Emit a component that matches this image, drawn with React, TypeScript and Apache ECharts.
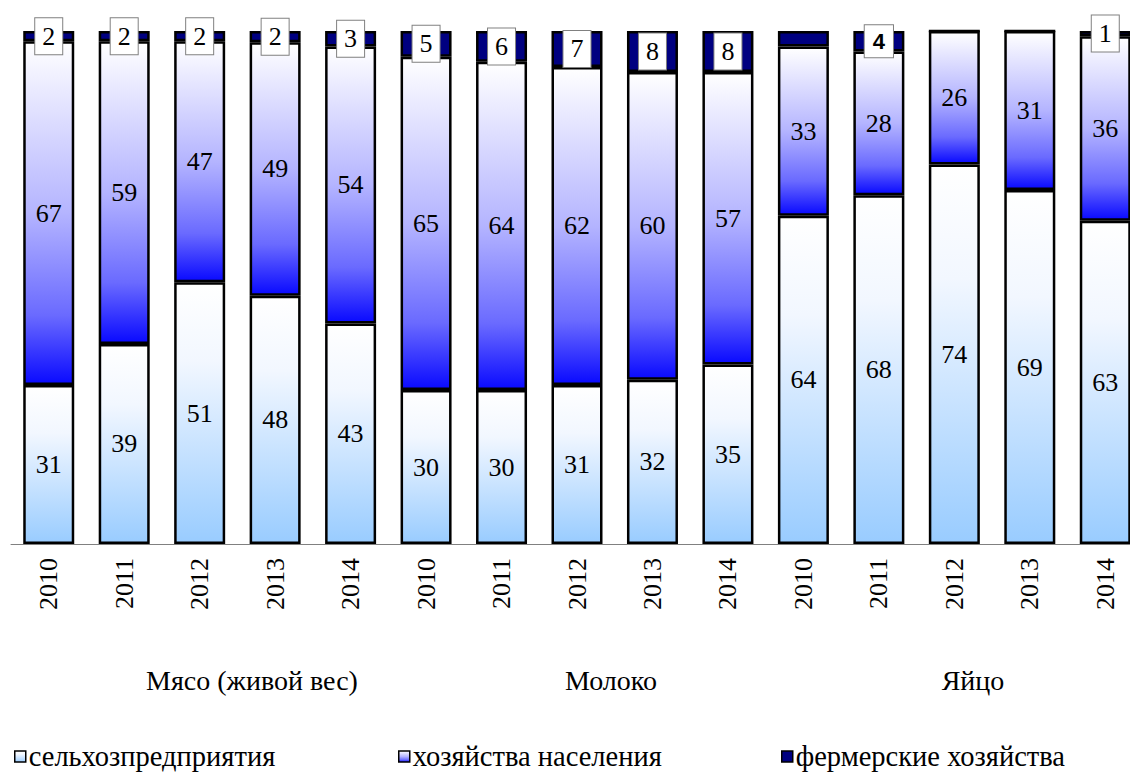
import React, { useEffect, useRef } from "react";
import * as echarts from "echarts";

const years = ["2010", "2011", "2012", "2013", "2014", "2010", "2011", "2012", "2013", "2014", "2010", "2011", "2012", "2013", "2014"];
const agri = [31, 39, 51, 48.4, 43, 30, 30, 31, 32, 35, 64, 68, 74, 69, 63];
const households = [67, 59, 47, 49.4, 54, 65, 64, 62, 60, 57, 33, 28, 26, 31, 36];
const farms = [2, 2, 2, 2.2, 3, 5, 6, 7, 8, 8, 3, 4, 0, 0, 1];
const farmsHiddenLabels = [10];
const farmsBoldLabels = [11];
const seriesNames = ["сельхозпредприятия", "хозяйства населения", "фермерские хозяйства"];
const groupNames = ["Мясо (живой вес)", "Молоко", "Яйцо"];
const groupCenters = [252, 611, 973];

export default function App() {
  const ref = useRef<HTMLDivElement>(null);
  useEffect(() => {
    const chart = echarts.init(ref.current!, null, { renderer: "svg" });
    const serif = "Times New Roman, Liberation Serif, DejaVu Serif, serif";
    const grad = (stops: [number, string][]) =>
      new echarts.graphic.LinearGradient(0, 0, 0, 1, stops.map(([o, c]) => ({ offset: o, color: c })));
    const agriFill = grad([[0, "#ffffff"], [0.3, "#f2f7ff"], [1, "#99ccff"]]);
    const hhFill = grad([[0, "#ffffff"], [0.5, "#b4b4ff"], [0.8, "#6a6aff"], [1, "#0a0aff"]]);
    const farmFill = "#000080";
    const round = (p: any) => String(Math.round(p.value));
    const baseLabel = {
      show: true,
      position: "inside",
      color: "#000",
      fontFamily: serif,
      fontSize: 26,
      formatter: round,
    };
    const farmData = farms.map((v, i) => {
      const hidden = v === 0 || farmsHiddenLabels.includes(i);
      const bold = farmsBoldLabels.includes(i);
      const item: any = { value: v };
      if (hidden) item.label = { show: false };
      else if (bold)
        item.label = {
          fontFamily: "Arial, Liberation Sans, sans-serif",
          fontWeight: "bold",
          fontSize: 22,
          padding: [6, 8, 4, 8],
        };
      return item;
    });
    const legendCommon = {
      icon: "rect",
      itemWidth: 11,
      itemHeight: 11,
      itemGap: 0,
      padding: 0,
      top: 742,
      itemStyle: { borderColor: "#000", borderWidth: 1.5 },
      textStyle: { fontFamily: serif, fontSize: 28.5, color: "#000", padding: [0, 0, 0, -2] },
    };
    const option: any = {
      animation: false,
      backgroundColor: "#fff",
      textStyle: { fontFamily: serif },
      grid: { left: 11, right: 0, top: 31, bottom: 234, containLabel: false },
      xAxis: {
        type: "category",
        data: years,
        axisLine: { lineStyle: { color: "#808080", width: 1 } },
        axisTick: { lineStyle: { color: "#808080" }, length: 6 },
        axisLabel: { rotate: 90, fontFamily: serif, fontSize: 26, color: "#000", margin: 14, interval: 0 },
      },
      yAxis: { type: "value", min: 0, max: 100, show: false },
      legend: [
        { ...legendCommon, left: 14, data: [seriesNames[0]] },
        { ...legendCommon, left: 398, data: [seriesNames[1]] },
        { ...legendCommon, left: 781, data: [seriesNames[2]] },
      ],
      series: [
        {
          name: seriesNames[0],
          type: "bar",
          stack: "a",
          barWidth: 51,
          data: agri,
          itemStyle: { color: agriFill, borderColor: "#000", borderWidth: 2.5 },
          label: baseLabel,
        },
        {
          name: seriesNames[1],
          type: "bar",
          stack: "a",
          barWidth: 51,
          data: households,
          itemStyle: { color: hhFill, borderColor: "#000", borderWidth: 2.5 },
          label: baseLabel,
        },
        {
          name: seriesNames[2],
          type: "bar",
          stack: "a",
          barWidth: 51,
          data: farmData,
          itemStyle: { color: farmFill, borderColor: "#000", borderWidth: 2.5 },
          label: {
            ...baseLabel,
            backgroundColor: "#fff",
            borderColor: "#808080",
            borderWidth: 1,
            padding: [5, 7, 5, 7],
          },
        },
      ],
      graphic: groupNames.map((g, i) => ({
        type: "text",
        x: groupCenters[i],
        y: 680,
        style: {
          text: g,
          fontFamily: serif,
          fontSize: 28,
          fill: "#000",
          textAlign: "center",
          textVerticalAlign: "middle",
        },
      })),
    };
    chart.setOption(option);
    return () => chart.dispose();
  }, []);
  return (
    <div style={{ position: "fixed", left: 0, top: 0, width: 1130, height: 778, overflow: "hidden", background: "#fff" }}>
      <div ref={ref} style={{ width: 1143, height: 778 }} />
    </div>
  );
}
